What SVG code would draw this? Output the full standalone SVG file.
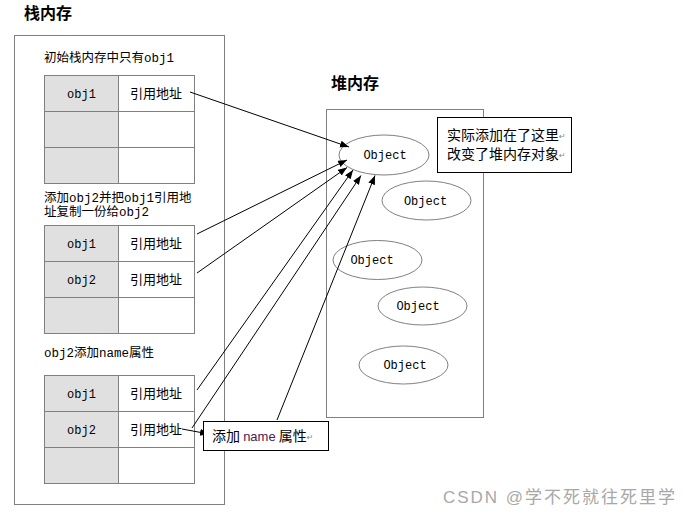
<svg xmlns="http://www.w3.org/2000/svg" width="688" height="516" viewBox="0 0 688 516">
<style>
.box{fill:#ffffff;stroke:#808080;stroke-width:1}
.cellk{fill:#e0e0e0;stroke:#808080;stroke-width:1}
.cellv{fill:#ffffff;stroke:#808080;stroke-width:1}
.obj{fill:#ffffff;stroke:#808080;stroke-width:1}
.title{font-family:"Noto Sans CJK SC","Liberation Sans",sans-serif;font-size:16px;font-weight:bold;fill:#000}
.lbl{font-family:"Liberation Mono","Noto Sans CJK SC",monospace;font-size:12.5px;fill:#000}
.key{font-family:"Liberation Mono","Noto Sans CJK SC",monospace;font-size:12px;fill:#000;text-anchor:middle}
.val{font-family:"Noto Sans CJK SC","Liberation Sans",sans-serif;font-size:13px;fill:#000;text-anchor:middle}
.otx{font-family:"Liberation Mono",monospace;font-size:12px;fill:#000;text-anchor:middle}
.note{font-family:"Noto Sans CJK SC","Liberation Sans",sans-serif;font-size:14px;fill:#000}
.ret{font-family:"DejaVu Sans",sans-serif;font-size:8px;fill:#888}
.callout{fill:#ffffff;stroke:#000;stroke-width:1}
.conn{stroke:#000;stroke-width:1;fill:none}
.wm{font-family:"Liberation Sans","Noto Sans CJK SC",sans-serif;font-size:17px;fill:#a8a8a8}
</style>
<defs>
<marker id="ah" markerUnits="userSpaceOnUse" markerWidth="10" markerHeight="8" refX="9" refY="3.5" orient="auto">
<path d="M0,0 L9,3.5 L0,7 z" fill="#000"/>
</marker>
</defs>

<g id="stack-title"><text class="title" x="24" y="19">栈内存</text></g>
<g id="heap-title"><text class="title" x="331" y="89">堆内存</text></g>

<g id="stack">
<rect class="box" x="14.5" y="35.5" width="210" height="469"/>
</g>

<g id="heap">
<rect class="box" x="326.5" y="109.5" width="157" height="308"/>
</g>

<g id="stage1">
<text class="lbl" x="44" y="62">初始栈内存中只有obj1</text>
<rect class="cellk" x="44.5" y="75.5" width="74" height="36"/>
<rect class="cellv" x="118.5" y="75.5" width="76" height="36"/>
<rect class="cellk" x="44.5" y="111.5" width="74" height="36"/>
<rect class="cellv" x="118.5" y="111.5" width="76" height="36"/>
<rect class="cellk" x="44.5" y="147.5" width="74" height="36"/>
<rect class="cellv" x="118.5" y="147.5" width="76" height="36"/>
<text class="key" x="81.5" y="97.5">obj1</text>
<text class="val" x="156" y="98">引用地址</text>
</g>

<g id="stage2">
<text class="lbl" x="44" y="202">添加obj2并把obj1引用地</text>
<text class="lbl" x="44" y="215.5">址复制一份给obj2</text>
<rect class="cellk" x="44.5" y="225.5" width="74" height="36"/>
<rect class="cellv" x="118.5" y="225.5" width="76" height="36"/>
<rect class="cellk" x="44.5" y="261.5" width="74" height="36"/>
<rect class="cellv" x="118.5" y="261.5" width="76" height="36"/>
<rect class="cellk" x="44.5" y="297.5" width="74" height="36"/>
<rect class="cellv" x="118.5" y="297.5" width="76" height="36"/>
<text class="key" x="81.5" y="247.5">obj1</text>
<text class="val" x="156" y="248">引用地址</text>
<text class="key" x="81.5" y="283.5">obj2</text>
<text class="val" x="156" y="284">引用地址</text>
</g>

<g id="stage3">
<text class="lbl" x="44" y="357">obj2添加name属性</text>
<rect class="cellk" x="44.5" y="375.5" width="74" height="36"/>
<rect class="cellv" x="118.5" y="375.5" width="76" height="36"/>
<rect class="cellk" x="44.5" y="411.5" width="74" height="36"/>
<rect class="cellv" x="118.5" y="411.5" width="76" height="36"/>
<rect class="cellk" x="44.5" y="447.5" width="74" height="36"/>
<rect class="cellv" x="118.5" y="447.5" width="76" height="36"/>
<text class="key" x="81.5" y="397.5">obj1</text>
<text class="val" x="156" y="398">引用地址</text>
<text class="key" x="81.5" y="433.5">obj2</text>
<text class="val" x="156" y="434">引用地址</text>
</g>

<g id="object1"><ellipse class="obj" cx="384" cy="155" rx="45" ry="20"/><text class="otx" x="385" y="159">Object</text></g>
<g id="object2"><ellipse class="obj" cx="426.5" cy="200.5" rx="44.5" ry="19.5"/><text class="otx" x="425.5" y="204.5">Object</text></g>
<g id="object3"><ellipse class="obj" cx="377.5" cy="260" rx="44.5" ry="19.5"/><text class="otx" x="372" y="264">Object</text></g>
<g id="object4"><ellipse class="obj" cx="422.5" cy="306" rx="44.5" ry="19"/><text class="otx" x="418" y="310">Object</text></g>
<g id="object5"><ellipse class="obj" cx="403.5" cy="365" rx="44.5" ry="19"/><text class="otx" x="405" y="369">Object</text></g>

<g id="connectors">
<line class="conn" x1="190" y1="92" x2="349" y2="147" marker-end="url(#ah)"/>
<line class="conn" x1="197" y1="234" x2="347" y2="160" marker-end="url(#ah)"/>
<line class="conn" x1="197" y1="273" x2="347" y2="167.5" marker-end="url(#ah)"/>
<line class="conn" x1="197" y1="390" x2="353" y2="170" marker-end="url(#ah)"/>
<line class="conn" x1="192" y1="428" x2="361" y2="175.5" marker-end="url(#ah)"/>
<line class="conn" x1="277" y1="420" x2="375" y2="175.5" marker-end="url(#ah)"/>
<line class="conn" x1="182" y1="429" x2="209" y2="434" marker-end="url(#ah)"/>
</g>

<g id="note-heap">
<rect class="callout" x="437.5" y="117.5" width="134" height="55"/>
<text class="note" x="447" y="140">实际添加在了这里<tspan class="ret" dy="-1">↵</tspan></text>
<text class="note" x="447" y="159">改变了堆内存对象<tspan class="ret" dy="-1">↵</tspan></text>
</g>

<g id="note-name">
<rect class="callout" x="203.5" y="421.5" width="125" height="29"/>
<text class="note" x="212" y="441">添加 <tspan font-family="Liberation Sans, sans-serif" font-size="13px" fill="#502050">name</tspan> 属性<tspan class="ret" dy="-1">↵</tspan></text>
</g>

<g id="watermark"><text class="wm" x="443" y="503" textLength="232" lengthAdjust="spacing">CSDN @学不死就往死里学</text></g>
</svg>
